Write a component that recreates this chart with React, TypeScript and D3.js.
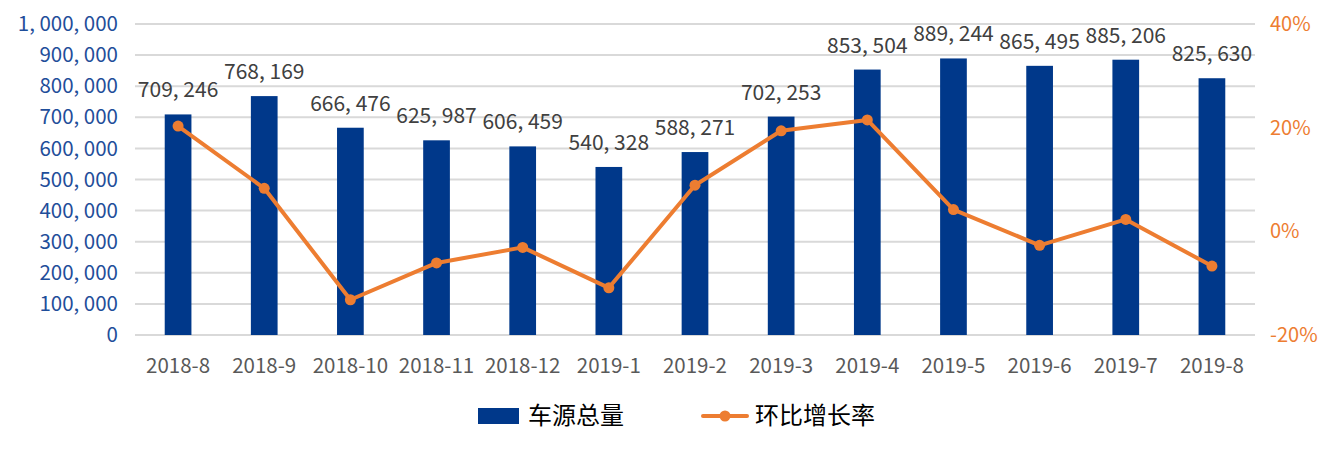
import React from 'react';
import * as d3 from 'd3';

const months = [
  '2018-8', '2018-9', '2018-10', '2018-11', '2018-12', '2019-1', '2019-2',
  '2019-3', '2019-4', '2019-5', '2019-6', '2019-7', '2019-8',
];
const totals = [
  709246, 768169, 666476, 625987, 606459, 540328, 588271,
  702253, 853504, 889244, 865495, 885206, 825630,
];
const growth = [20.3, 8.3, -13.2, -6.1, -3.1, -10.9, 8.9, 19.4, 21.5, 4.2, -2.7, 2.3, -6.7];
const leftTicks = [0, 100000, 200000, 300000, 400000, 500000, 600000, 700000, 800000, 900000, 1000000];
const rightTicks = [-20, 0, 20, 40];

const W = 1334;
const H = 450;
const margin = { top: 24, right: 79, bottom: 115, left: 135 };
const FONT = '"Noto Sans CJK SC", "Microsoft YaHei", sans-serif';
const BLUE = '#00388A';
const ORANGE = '#ED7D31';

const fmt = (v: number) => d3.format(',')(v).replace(/,/g, ', ');

export default function App() {
  const x = d3
    .scaleBand<string>()
    .domain(months)
    .range([margin.left, W - margin.right])
    .paddingInner(0.69)
    .paddingOuter(0.345);
  const y = d3.scaleLinear().domain([0, 1000000]).range([H - margin.bottom, margin.top]);
  const y2 = d3.scaleLinear().domain([-20, 40]).range([H - margin.bottom, margin.top]);

  const line = d3
    .line<number>()
    .x((_, i) => x(months[i])! + x.bandwidth() / 2)
    .y(d => y2(d));

  return (
    <svg width={W} height={H} style={{ position: 'absolute', left: 0, top: 0 }} fontFamily={FONT}>
      <rect width={W} height={H} fill="#fff" />
      {leftTicks.map(t => (
        <g key={t}>
          <line x1={margin.left} x2={W - margin.right} y1={y(t)} y2={y(t)} stroke="#d9d9d9" strokeWidth={2} />
          <text x={118} y={y(t)} dy="0.35em" textAnchor="end" fontSize={20.5} fill="#1F4E9A">
            {fmt(t)}
          </text>
        </g>
      ))}
      {rightTicks.map(t => (
        <text key={t} x={1270} y={y2(t)} dy="0.35em" fontSize={20} fill={ORANGE}>
          {t}%
        </text>
      ))}
      {months.map((m, i) => (
        <g key={m}>
          <rect x={x(m)} y={y(totals[i])} width={x.bandwidth()} height={y(0) - y(totals[i])} fill={BLUE} />
          <text x={x(m)! + x.bandwidth() / 2} y={y(totals[i]) - 17} textAnchor="middle" fontSize={21} fill="#404040">
            {fmt(totals[i])}
          </text>
          <text x={x(m)! + x.bandwidth() / 2} y={366} dy="0.35em" textAnchor="middle" fontSize={20.5} fill="#595959">
            {m}
          </text>
        </g>
      ))}
      <path d={line(growth)!} fill="none" stroke={ORANGE} strokeWidth={4} strokeLinejoin="round" />
      {growth.map((g, i) => (
        <circle key={i} cx={x(months[i])! + x.bandwidth() / 2} cy={y2(g)} r={5.5} fill={ORANGE} />
      ))}
      <g>
        <rect x={478} y={408} width={41} height={16} fill={BLUE} />
        <text x={528} y={416} dy="0.35em" fontSize={24} fill="#000">车源总量</text>
        <line x1={703} x2={747} y1={416} y2={416} stroke={ORANGE} strokeWidth={4} strokeLinecap="round" />
        <circle cx={725} cy={416} r={5.5} fill={ORANGE} />
        <text x={755} y={416} dy="0.35em" fontSize={24} fill="#000">环比增长率</text>
      </g>
    </svg>
  );
}
